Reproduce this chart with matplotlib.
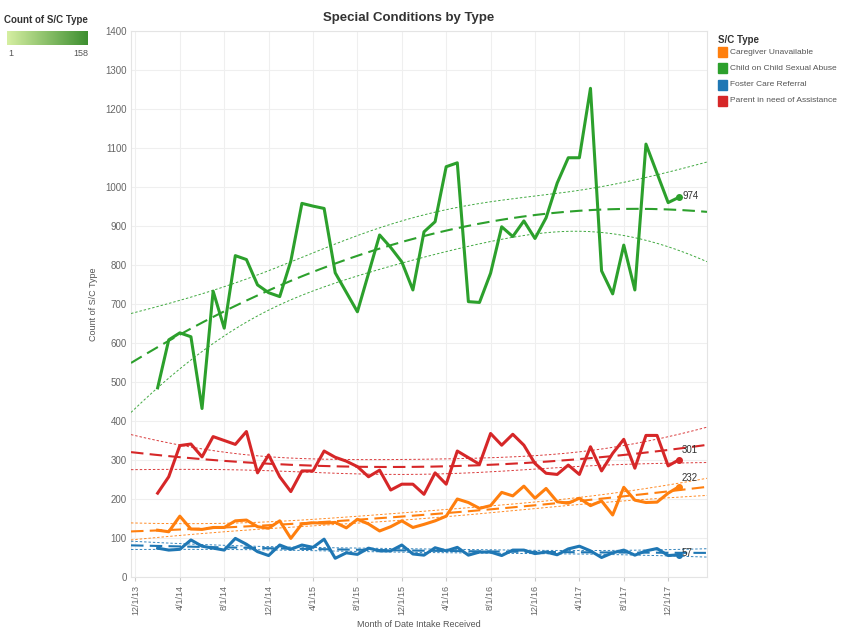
import numpy as np
import matplotlib.pyplot as plt
from matplotlib.patches import Rectangle
from matplotlib.colors import LinearSegmentedColormap

plt.rcParams['font.family'] = ['Liberation Sans', 'DejaVu Sans']

# month index: 0 = Dec 2013, data runs Feb 2014 .. Jan 2018
months = np.arange(2, 50)
tick_pos = np.arange(0, 49, 4)
tick_labels = ["12/1/13", "4/1/14", "8/1/14", "12/1/14", "4/1/15", "8/1/15", "12/1/15",
               "4/1/16", "8/1/16", "12/1/16", "4/1/17", "8/1/17", "12/1/17"]

caregiver = [120, 116, 156, 123, 122, 127, 127, 144, 146, 129, 125,
             144, 99, 136, 139, 138, 140, 126, 148, 136, 118, 129, 144,
             127, 135, 144, 156, 200, 191, 176, 183, 217, 208, 233, 202,
             227, 193, 189, 202, 183, 195, 159, 230, 197, 191, 192, 215,
             232]
child_abuse = [485, 608, 626, 616, 432, 733, 638, 824, 814, 749, 729,
               719, 810, 958, 951, 945, 780, 730, 680, 778, 877, 845, 808,
               736, 885, 911, 1052, 1062, 706, 704, 779, 898, 873, 913, 868,
               921, 1010, 1075, 1075, 1253, 785, 726, 851, 736, 1110, 1035, 960,
               974]
foster = [74, 69, 71, 95, 79, 74, 69, 99, 84, 65, 55,
          82, 71, 82, 76, 97, 48, 62, 58, 74, 67, 67, 82,
          59, 56, 75, 67, 76, 56, 64, 64, 55, 69, 69, 60,
          64, 57, 72, 79, 67, 50, 62, 69, 56, 67, 73, 55,
          57]
parent = [215, 257, 337, 341, 308, 360, 350, 340, 373, 267, 313,
          257, 219, 272, 272, 323, 307, 297, 283, 257, 274, 223, 238,
          238, 212, 267, 238, 323, 306, 289, 368, 338, 366, 338, 291,
          266, 263, 287, 263, 334, 272, 317, 353, 279, 363, 363, 285,
          301]

series = [
    ("Caregiver Unavailable", caregiver, "#ff7f0e", (2, 6)),
    ("Child on Child Sexual Abuse", child_abuse, "#2ca02c", (2, 1)),
    ("Foster Care Referral", foster, "#1f77b4", (2, 1)),
    ("Parent in need of Assistance", parent, "#d62728", (2, 7)),
]


def trend(x, y, xs, deg=2, t=2.014):
    # polynomial trend with 95% confidence band of the mean
    X = np.vander(x, deg + 1)
    beta = np.linalg.lstsq(X, y, rcond=None)[0]
    resid = y - X @ beta
    s2 = resid @ resid / (len(y) - deg - 1)
    cov = s2 * np.linalg.inv(X.T @ X)
    Xs = np.vander(xs, deg + 1)
    fit = Xs @ beta
    se = np.sqrt(np.einsum('ij,jk,ik->i', Xs, cov, Xs))
    return fit, fit - t * se, fit + t * se


W, H = 841, 629
fig = plt.figure(figsize=(W / 100, H / 100), dpi=100)
ax = fig.add_axes([131 / W, 1 - 577 / H, 576 / W, 546 / H])

xmin, xmax = -0.4, 51.5
xs = np.linspace(xmin, xmax, 200)

for name, vals, color, off in series:
    y = np.array(vals, dtype=float)
    fit, lo, hi = trend(months.astype(float), y, xs)
    ax.plot(xs, fit, color=color, lw=1.5, dashes=(6, 3), zorder=3)
    ax.plot(xs, lo, color=color, lw=0.7, dashes=(2.5, 2), alpha=0.9, zorder=3)
    ax.plot(xs, hi, color=color, lw=0.7, dashes=(2.5, 2), alpha=0.9, zorder=3)
    ax.plot(months, y, color=color, lw=2.2, zorder=4)
    ax.plot(months[-1], y[-1], 'o', color=color, ms=4, zorder=5)
    ax.annotate(str(vals[-1]), (months[-1], y[-1]), xytext=off, textcoords='offset points',
                fontsize=7, color='#333333', va='center', ha='left')

ax.set_xlim(xmin, xmax)
ax.set_ylim(0, 1400)
ax.set_yticks(np.arange(0, 1401, 100))
ax.set_xticks(tick_pos)
ax.set_xticklabels(tick_labels, rotation=90)
ax.tick_params(axis='y', length=0, labelsize=7, colors='#666666', pad=3)
ax.tick_params(axis='x', length=3, labelsize=6.5, colors='#666666', color='#cccccc', pad=3)
ax.grid(True, color='#efefef', lw=0.8)
ax.set_axisbelow(True)
for s in ax.spines.values():
    s.set_color('#e4e4e4')
    s.set_linewidth(0.8)
ax.set_ylabel("Count of S/C Type", fontsize=6.5, color='#555555', labelpad=5)
ax.set_xlabel("Month of Date Intake Received", fontsize=6.5, color='#555555', labelpad=3)

fig.text(409 / W, 1 - 18 / H, "Special Conditions by Type", fontsize=9.5, fontweight='bold',
         color='#333333', ha='center', va='center')

# colour scale legend (top left)
fig.text(4 / W, 1 - 20 / H, "Count of S/C Type", fontsize=7, fontweight='bold',
         color='#333333', va='center')
cax = fig.add_axes([7 / W, 1 - 45 / H, 81 / W, 14 / H])
grad = np.linspace(0, 1, 256).reshape(1, -1)
cmap = LinearSegmentedColormap.from_list("g", ["#d6efa2", "#3d8f30"])
cax.imshow(grad, aspect='auto', cmap=cmap)
cax.axis('off')
fig.text(8 / W, 1 - 54 / H, "1", fontsize=6.5, color='#555555', va='center')
fig.text(88 / W, 1 - 54 / H, "158", fontsize=6.5, color='#555555', va='center', ha='right')

# colour legend (right)
fig.text(718 / W, 1 - 40 / H, "S/C Type", fontsize=7, fontweight='bold',
         color='#333333', va='center')
for i, (name, vals, color, off) in enumerate(series):
    yc = 52 + i * 16.3
    fig.patches.append(Rectangle((718 / W, 1 - (yc + 5) / H), 9 / W, 10 / H,
                                 transform=fig.transFigure, color=color))
    fig.text(730 / W, 1 - yc / H, name, fontsize=6, color='#555555', va='center')

fig.savefig("out.png", dpi=100)
